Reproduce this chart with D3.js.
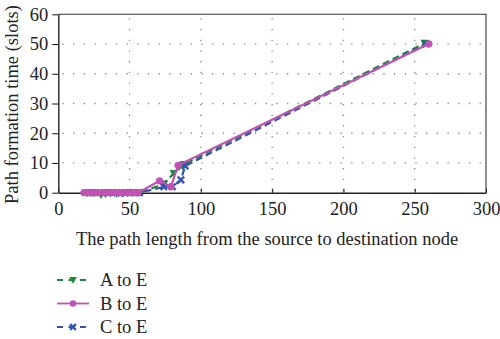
<!DOCTYPE html>
<html>
<head>
<meta charset="utf-8">
<script src="https://cdn.jsdelivr.net/npm/d3@7"></script>
<style>
  html, body { margin: 0; padding: 0; background: #fff; }
  svg { display: block; }
  svg text { font-family: "Liberation Serif" !important; }
</style>
</head>
<body>
<svg id="chart" width="500" height="339"></svg>
<script>
// Path formation time vs. path length, per source node
const xTicks = [0, 50, 100, 150, 200, 250, 300];
const yTicks = [0, 10, 20, 30, 40, 50, 60];

const aToE_x = [20, 25, 30, 33, 37, 41, 45, 49, 53, 57, 74, 81, 88, 257];
const aToE_y = [0, 0, -0.7, -0.4, 0, -0.4, -0.3, 0, 0, 0, 3, 6.5, 9.5, 50.3];

const bToE_x = [18, 20, 22, 25, 28, 32, 35, 38, 41, 44, 47, 50, 53, 56, 71, 79, 84, 260];
const bToE_y = [0, 0, 0, 0, 0, 0, 0, 0, 0, 0, 0, 0, 0, 0, 4, 2, 9.2, 50.1];

const cToE_x = [22, 24, 26, 32, 35, 38, 41, 44, 47, 50, 53, 57, 74, 80, 86, 89, 258];
const cToE_y = [0, 0, 0, 0, 0, 0, 0, 0, 0, 0, 0, 0, 2, 2, 4.3, 9, 50];

const series = [
  { name: "A to E", xs: aToE_x, ys: aToE_y, color: "#1b8a3e", dash: "7,4", symbol: "down" },
  { name: "B to E", xs: bToE_x, ys: bToE_y, color: "#c452b5", dash: null, symbol: "circle" },
  { name: "C to E", xs: cToE_x, ys: cToE_y, color: "#3653ae", dash: "7,4", symbol: "cross" }
];

const FONT = "Liberation Serif";
const svg = d3.select("#chart");
const plotLeft = 58.3, plotRight = 486, plotTop = 14.3, plotBottom = 192.7;

const x = d3.scaleLinear().domain([0, 300]).range([plotLeft, plotRight]);
const y = d3.scaleLinear().domain([0, 60]).range([plotBottom, plotTop]);

// dotted grid
const grid = svg.append("g").attr("stroke", "#8a8a8a").attr("stroke-width", 1.3)
  .attr("stroke-dasharray", "1.3,9.4");
xTicks.filter(t => t > 0 && t < 300).forEach(t => {
  grid.append("line").attr("x1", x(t)).attr("x2", x(t)).attr("y1", y(60) + 4).attr("y2", y(0));
});
yTicks.filter(t => t > 0 && t < 60).forEach(t => {
  grid.append("line").attr("x1", x(0) + 4).attr("x2", x(300)).attr("y1", y(t)).attr("y2", y(t));
});

// frame on top and right
svg.append("path")
  .attr("d", `M${x(0)},${y(60)}H${x(300)}V${y(0)}`)
  .attr("fill", "none").attr("stroke", "#333").attr("stroke-width", 1.1);

// axes
const xAxis = d3.axisBottom(x).tickValues(xTicks).tickSizeInner(-4).tickSizeOuter(0).tickPadding(9);
const yAxis = d3.axisLeft(y).tickValues(yTicks).tickSizeInner(6).tickSizeOuter(0).tickPadding(4);

const gx = svg.append("g").attr("transform", `translate(0,${y(0)})`).call(xAxis);
const gy = svg.append("g").attr("transform", `translate(${x(0)},0)`).call(yAxis);
[gx, gy].forEach(g => {
  g.attr("font-family", FONT).attr("font-size", 18.5);
  g.select(".domain").attr("stroke", "#222").attr("stroke-width", 1.4);
  g.selectAll(".tick line").attr("stroke", "#222").attr("stroke-width", 1.1);
  g.selectAll(".tick text").attr("fill", "#222");
});

// axis titles
svg.append("text")
  .attr("x", 267).attr("y", 245)
  .attr("text-anchor", "middle").attr("fill", "#222")
  .attr("font-family", FONT).attr("font-size", 18.5)
  .text("The path length from the source to destination node");

svg.append("text")
  .attr("transform", `translate(18,${(plotTop + plotBottom) / 2 + 1}) rotate(-90)`)
  .attr("text-anchor", "middle").attr("fill", "#222")
  .attr("font-family", FONT).attr("font-size", 18.5)
  .text("Path formation time (slots)");

// markers
function drawMarker(g, symbol, cx, cy, color, scale) {
  const s = scale || 1;
  if (symbol === "circle") {
    g.append("circle").attr("cx", cx).attr("cy", cy).attr("r", 3.6 * s).attr("fill", color);
  } else if (symbol === "down") {
    const h = 4.2 * s;
    g.append("path").attr("d", `M${cx - h},${cy - h * 0.8}L${cx + h},${cy - h * 0.8}L${cx},${cy + h}Z`)
      .attr("fill", color);
  } else {
    const h = 3.2 * s;
    g.append("path").attr("d", `M${cx - h},${cy - h}L${cx + h},${cy + h}M${cx - h},${cy + h}L${cx + h},${cy - h}`)
      .attr("stroke", color).attr("stroke-width", 2.4).attr("fill", "none");
  }
}

const line = d3.line().x(d => x(d[0])).y(d => y(d[1]));
const order = [series[0], series[2], series[1]];
order.forEach(s => {
  const pts = s.xs.map((v, i) => [v, s.ys[i]]);
  const g = svg.append("g");
  g.append("path").datum(pts).attr("d", line)
    .attr("fill", "none").attr("stroke", s.color).attr("stroke-width", 2.2)
    .attr("stroke-dasharray", s.dash);
  pts.forEach(p => drawMarker(g, s.symbol, x(p[0]), y(p[1]), s.color));
});

// legend
series.forEach((s, i) => {
  const ly = 280 + i * 23.5;
  const g = svg.append("g");
  g.append("line").attr("x1", 57).attr("x2", 89).attr("y1", ly).attr("y2", ly)
    .attr("stroke", s.color).attr("stroke-width", 1.8)
    .attr("stroke-dasharray", s.dash ? "6,5.5" : null);
  drawMarker(g, s.symbol, 73, ly, s.color, 0.9);
  g.append("text").attr("x", 100).attr("y", ly + 6).attr("fill", "#222")
    .attr("font-family", FONT).attr("font-size", 18.5)
    .text(s.name);
});
</script>
</body>
</html>
